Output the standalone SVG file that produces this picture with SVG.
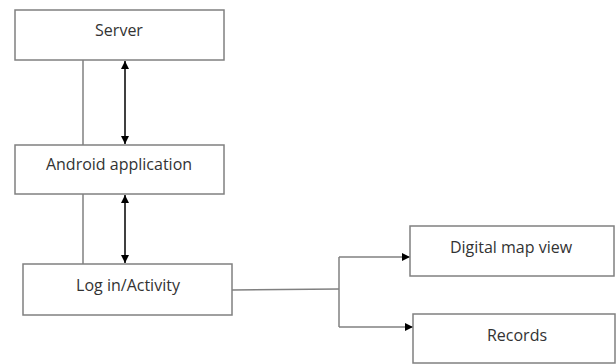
<svg xmlns="http://www.w3.org/2000/svg" width="616" height="364" viewBox="0 0 616 364">
<defs>
<style>
.box{fill:#fff;stroke:#808080;stroke-width:1.5}
.lbl{font-family:"Open Sans","Liberation Sans",sans-serif;font-size:16px;fill:#333;text-anchor:middle}
.plain{stroke:#808080;stroke-width:1.5;fill:none}
.arr{stroke:#000;stroke-width:1.5;fill:none}
</style>
<marker id="ah" viewBox="0 0 10 10" refX="10" refY="5" markerWidth="9" markerHeight="8" orient="auto-start-reverse" markerUnits="userSpaceOnUse">
<path d="M0,0 L10,5 L0,10 z" fill="#000"/>
</marker>
</defs>
<rect width="616" height="364" fill="#fff"/>
<g id="connectors">
<line class="plain" x1="83" y1="60" x2="83" y2="145"/>
<line class="arr" x1="125" y1="61" x2="125" y2="144" marker-start="url(#ah)" marker-end="url(#ah)"/>
<line class="plain" x1="83" y1="194" x2="83" y2="264"/>
<line class="arr" x1="125" y1="195" x2="125" y2="263" marker-start="url(#ah)" marker-end="url(#ah)"/>
<polyline class="plain" points="232,290 339,289"/>
<polyline class="plain" points="339,257 339,327"/>
<line class="plain" x1="339" y1="257" x2="410" y2="257" marker-end="url(#ah)"/>
<line class="plain" x1="339" y1="327" x2="413" y2="327" marker-end="url(#ah)"/>
</g>
<g id="server">
<rect class="box" x="15" y="10" width="209" height="50"/>
<text class="lbl" x="119" y="36">Server</text>
</g>
<g id="android">
<rect class="box" x="15" y="145" width="209" height="49"/>
<text class="lbl" x="119" y="170">Android application</text>
</g>
<g id="login">
<rect class="box" x="23" y="264" width="209" height="51"/>
<text class="lbl" x="128" y="291">Log in/Activity</text>
</g>
<g id="mapview">
<rect class="box" x="410" y="226" width="204" height="50"/>
<text class="lbl" x="511" y="253">Digital map view</text>
</g>
<g id="records">
<rect class="box" x="413" y="314" width="202" height="49"/>
<text class="lbl" x="517" y="341">Records</text>
</g>
</svg>
